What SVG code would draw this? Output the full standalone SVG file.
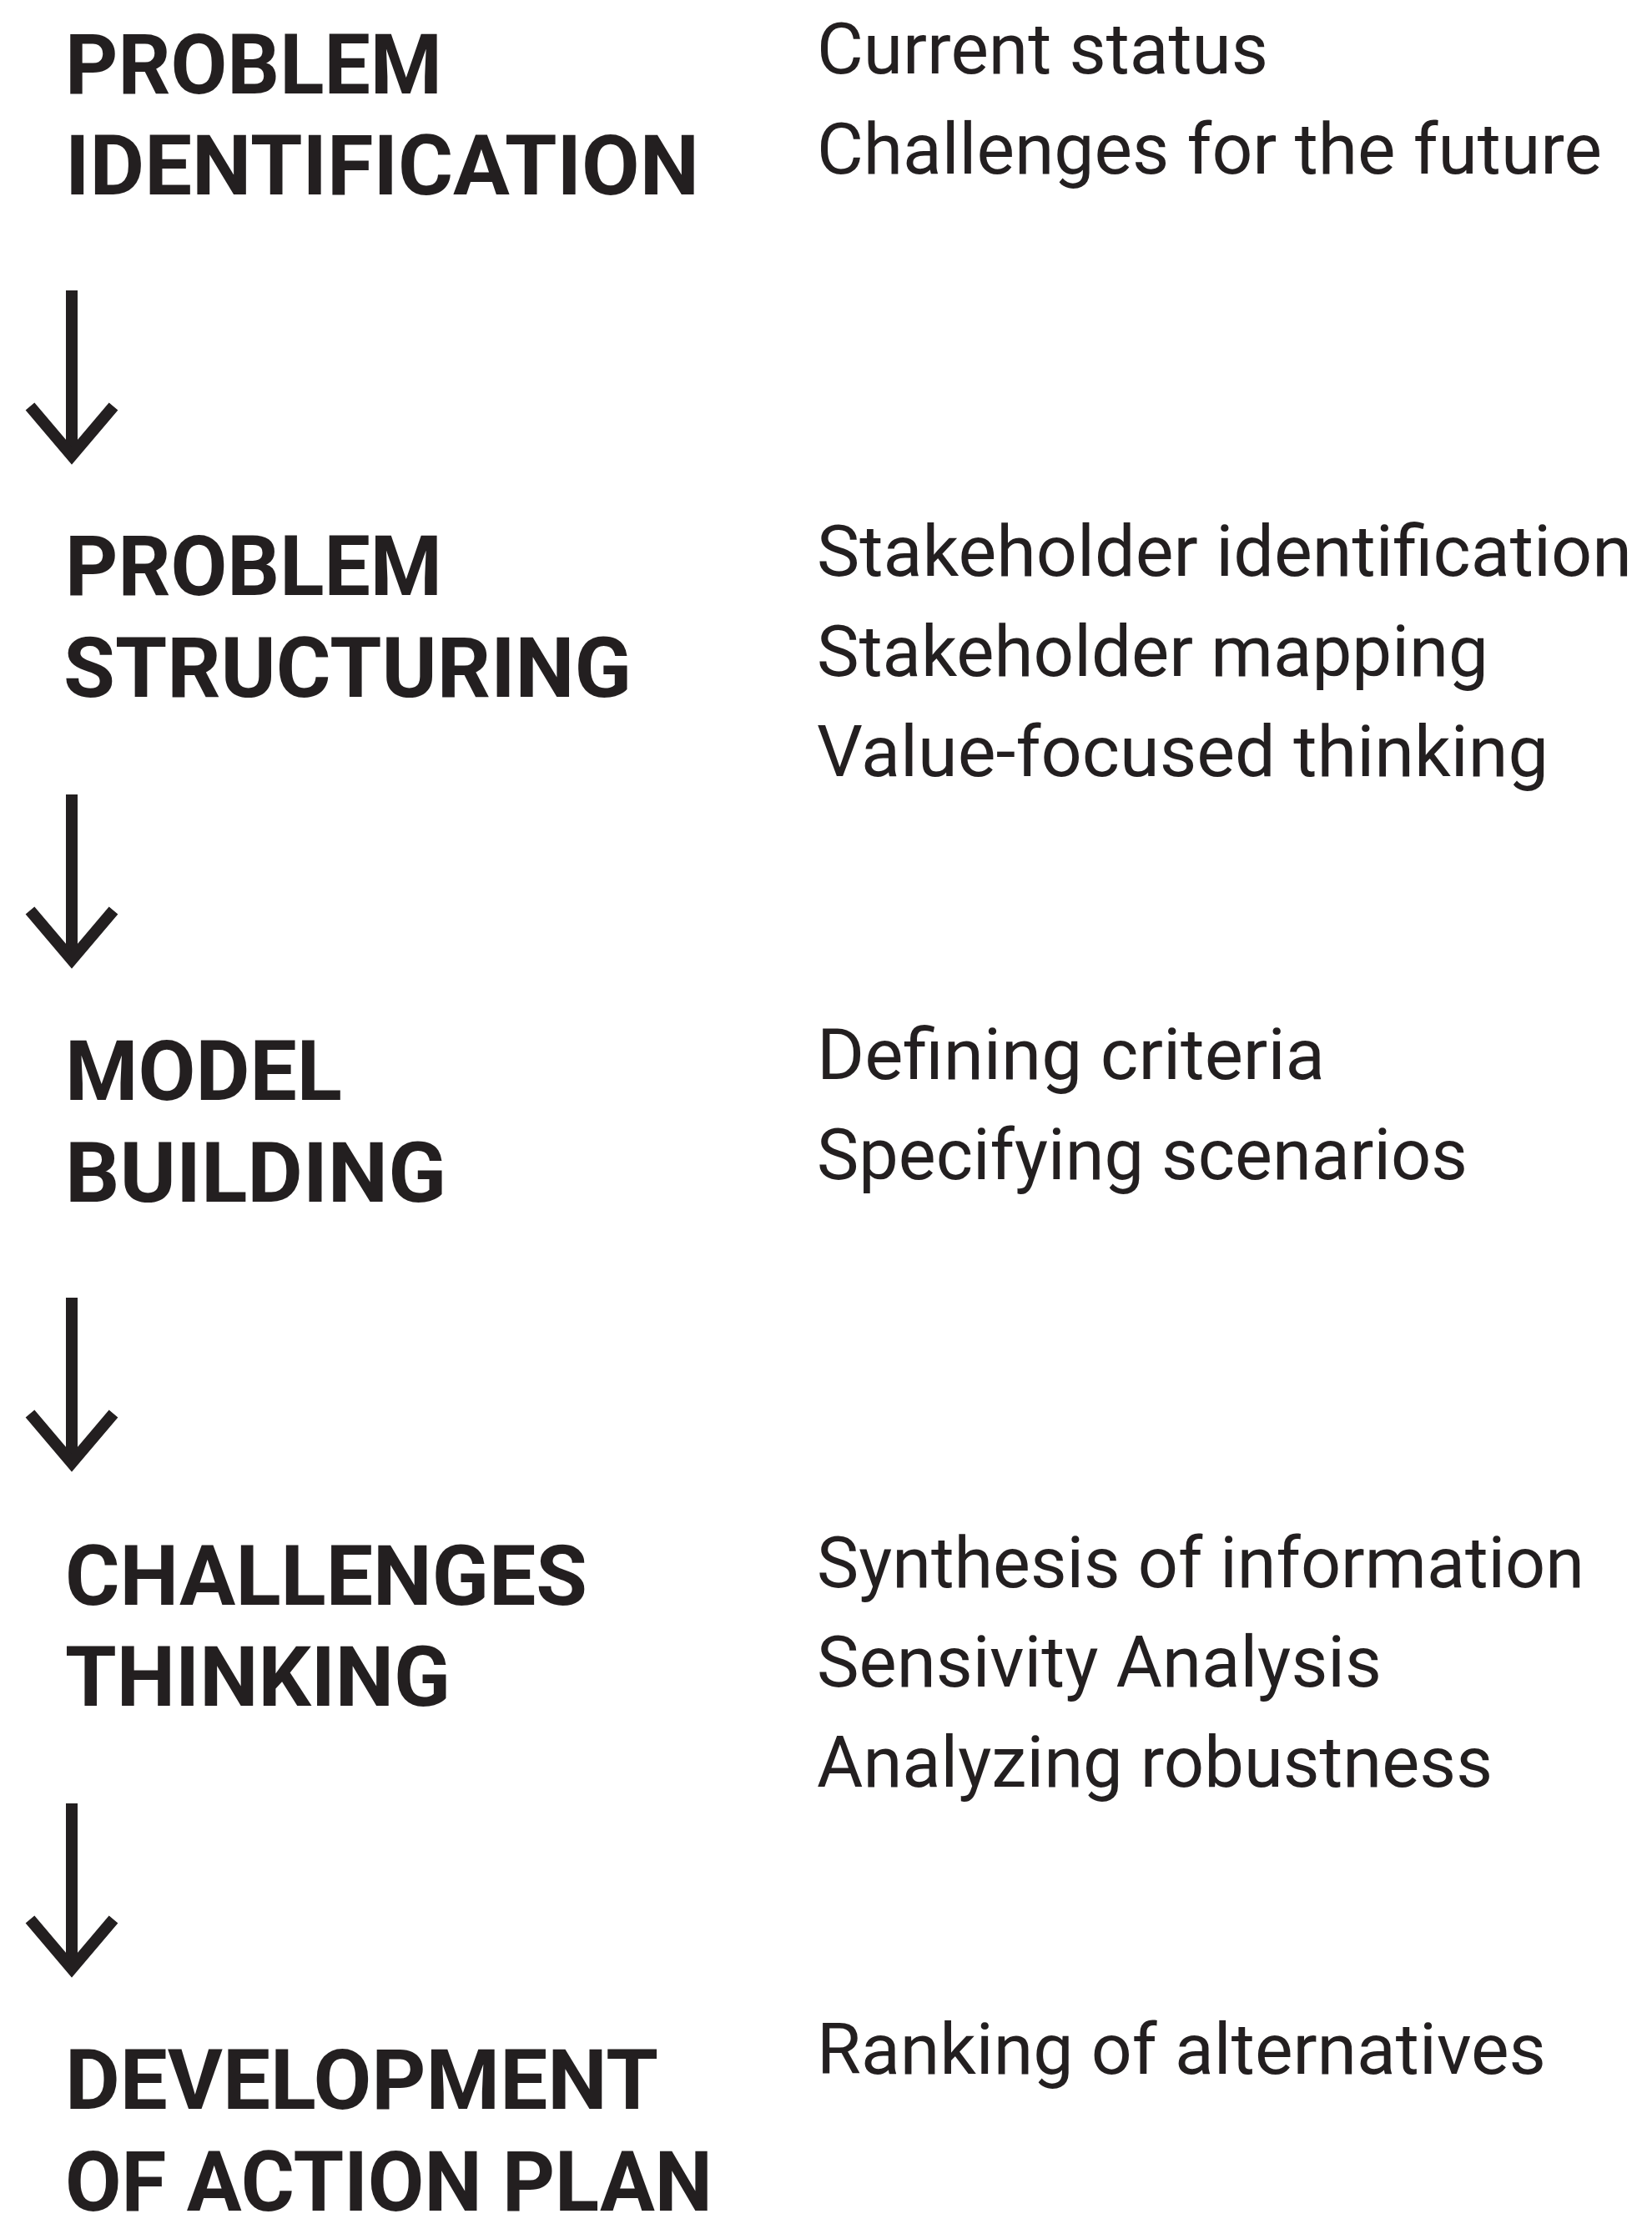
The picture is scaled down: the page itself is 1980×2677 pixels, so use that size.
<svg xmlns="http://www.w3.org/2000/svg" width="1980" height="2677" viewBox="0 0 1980 2677">
<style>
.h{font-family:Roboto,"Liberation Sans",sans-serif;font-weight:700;font-size:101px;fill:#231f20}
.t{font-family:Roboto,"Liberation Sans",sans-serif;font-weight:400;font-size:85px;fill:#231f20}
.arr{fill:none;stroke:#231f20;stroke-width:14;stroke-linejoin:miter;stroke-miterlimit:10}
</style>
<defs>
<g id="arrow"><line class="arr" x1="86" y1="0" x2="86" y2="198"/><polyline class="arr" points="36,139 86,198 136,139"/></g>
</defs>
<rect width="1980" height="2677" fill="#fff"/>
<g id="connectors">
<use href="#arrow" x="0" y="348"/>
<use href="#arrow" x="0" y="952"/>
<use href="#arrow" x="0" y="1555"/>
<use href="#arrow" x="0" y="2161"/>
</g>
<g id="node1">
<text class="h" x="78" y="112" textLength="452" lengthAdjust="spacingAndGlyphs">PROBLEM</text>
<text class="h" x="78" y="233" textLength="760" lengthAdjust="spacingAndGlyphs">IDENTIFICATION</text>
<text class="t" x="979" y="88" textLength="541" lengthAdjust="spacingAndGlyphs">Current status</text>
<text class="t" x="979" y="208" textLength="941" lengthAdjust="spacingAndGlyphs">Challenges for the future</text>
</g>
<g id="node2">
<text class="h" x="78" y="713" textLength="452" lengthAdjust="spacingAndGlyphs">PROBLEM</text>
<text class="h" x="76" y="835" textLength="681" lengthAdjust="spacingAndGlyphs">STRUCTURING</text>
<text class="t" x="979" y="690" textLength="977" lengthAdjust="spacingAndGlyphs">Stakeholder identification</text>
<text class="t" x="979" y="810" textLength="805" lengthAdjust="spacingAndGlyphs">Stakeholder mapping</text>
<text class="t" x="979" y="930" textLength="877" lengthAdjust="spacingAndGlyphs">Value-focused thinking</text>
</g>
<g id="node3">
<text class="h" x="78" y="1318" textLength="332" lengthAdjust="spacingAndGlyphs">MODEL</text>
<text class="h" x="78" y="1440" textLength="457" lengthAdjust="spacingAndGlyphs">BUILDING</text>
<text class="t" x="979" y="1293" textLength="609" lengthAdjust="spacingAndGlyphs">Defining criteria</text>
<text class="t" x="979" y="1413" textLength="780" lengthAdjust="spacingAndGlyphs">Specifying scenarios</text>
</g>
<g id="node4">
<text class="h" x="78" y="1923" textLength="626" lengthAdjust="spacingAndGlyphs">CHALLENGES</text>
<text class="h" x="78" y="2044" textLength="462" lengthAdjust="spacingAndGlyphs">THINKING</text>
<text class="t" x="979" y="1902" textLength="920" lengthAdjust="spacingAndGlyphs">Synthesis of information</text>
<text class="t" x="979" y="2021" textLength="677" lengthAdjust="spacingAndGlyphs">Sensivity Analysis</text>
<text class="t" x="979" y="2141" textLength="810" lengthAdjust="spacingAndGlyphs">Analyzing robustness</text>
</g>
<g id="node5">
<text class="h" x="78" y="2527" textLength="711" lengthAdjust="spacingAndGlyphs">DEVELOPMENT</text>
<text class="h" x="78" y="2649" textLength="776" lengthAdjust="spacingAndGlyphs">OF ACTION PLAN</text>
<text class="t" x="979" y="2485" textLength="874" lengthAdjust="spacingAndGlyphs">Ranking of alternatives</text>
</g>
</svg>
